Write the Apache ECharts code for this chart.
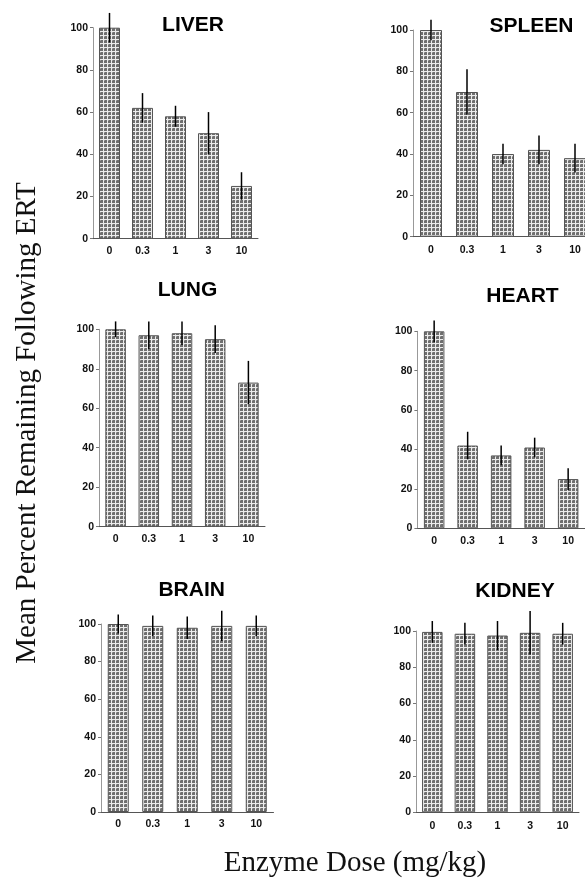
<!DOCTYPE html>
<html>
<head>
<meta charset="utf-8">
<script src="https://cdn.jsdelivr.net/npm/echarts@6/dist/echarts.min.js"></script>
<style>
html,body{margin:0;padding:0;background:#fff;overflow:hidden;}
#chart{width:600px;height:878px;}
</style>
</head>
<body>
<div id="chart"></div>
<script>
// ---- data ----
var categories = ['0', '0.3', '1', '3', '10'];
var yTicks = [0, 20, 40, 60, 80, 100];

var liverMean  = [100, 62, 58, 50, 25];
var liverErr   = [7, 7, 5, 10, 6.5];
var spleenMean = [100, 70, 40, 42, 38];
var spleenErr  = [5, 11, 5, 7, 7];
var lungMean   = [100, 97, 98, 95, 73];
var lungErr    = [4, 7, 6, 7, 11];
var heartMean  = [100, 42, 37, 41, 25];
var heartErr   = [5.5, 7, 5, 5, 5.5];
var brainMean  = [100, 99, 98, 99, 99];
var brainErr   = [5, 5.5, 6, 8, 5.5];
var kidneyMean = [99.5, 98.5, 97.5, 99, 98.5];
var kidneyErr  = [6, 6, 8, 12, 6];

var panelNames = ['LIVER', 'SPLEEN', 'LUNG', 'HEART', 'BRAIN', 'KIDNEY'];
var panelMeans = [liverMean, spleenMean, lungMean, heartMean, brainMean, kidneyMean];
var panelErrs  = [liverErr, spleenErr, lungErr, heartErr, brainErr, kidneyErr];

// ---- layout (pixels) ----
var layouts = [
  {left: 93,    top: 27.7,  width: 165,   height: 211,   barW: 21,   titleX: 193,   titleY: 25,    lblMargin: 8},
  {left: 413,   top: 30,    width: 180,   height: 206.7, barW: 22,   titleX: 531.5, titleY: 26,    lblMargin: 9},
  {left: 99,    top: 329.3, width: 166,   height: 197.4, barW: 20.5, titleX: 187.5, titleY: 290,   lblMargin: 8},
  {left: 417.4, top: 331.3, width: 167.5, height: 197,   barW: 20.5, titleX: 522.5, titleY: 296,   lblMargin: 8},
  {left: 101,   top: 624,   width: 172.5, height: 188,   barW: 21,   titleX: 191.7, titleY: 590,   lblMargin: 8},
  {left: 416,   top: 631,   width: 163,   height: 181.3, barW: 20.5, titleX: 515,   titleY: 591.5, lblMargin: 9}
];

// dotted grey fill pattern: grey squares separated by light lines
function makePattern() {
  var c = document.createElement('canvas');
  c.width = 4; c.height = 4;
  var ctx = c.getContext('2d');
  ctx.fillStyle = '#ececec';
  ctx.fillRect(0, 0, 4, 4);
  ctx.fillStyle = '#6f6f6f';
  ctx.fillRect(0, 0, 3, 3);
  ctx.fillStyle = '#9a9a9a';
  ctx.fillRect(0, 0, 1, 1);
  return c;
}
var pattern = makePattern();

var sansFont = "'Liberation Sans', Arial, sans-serif";
var serifFont = "'Liberation Serif', 'Times New Roman', serif";

var grids = [], xAxes = [], yAxes = [], series = [], graphics = [];

layouts.forEach(function (L, i) {
  grids.push({left: L.left, top: L.top, width: L.width, height: L.height, containLabel: false});
  xAxes.push({
    type: 'category', gridIndex: i, data: categories,
    axisLine: {show: true, lineStyle: {color: '#555', width: 1}},
    axisTick: {show: false},
    axisLabel: {fontSize: 10.5, fontWeight: 'bold', color: '#111', fontFamily: sansFont, margin: L.lblMargin - 1, interval: 0},
    splitLine: {show: false}
  });
  yAxes.push({
    type: 'value', gridIndex: i, min: yTicks[0], max: yTicks[yTicks.length - 1], interval: yTicks[1] - yTicks[0],
    axisLine: {show: true, lineStyle: {color: '#999', width: 1}},
    axisTick: {show: true, length: 3, lineStyle: {color: '#777'}},
    axisLabel: {fontSize: 10.5, fontWeight: 'bold', color: '#111', fontFamily: sansFont, margin: 5},
    splitLine: {show: false}
  });
  series.push({
    type: 'bar', xAxisIndex: i, yAxisIndex: i,
    data: panelMeans[i], barWidth: L.barW,
    itemStyle: {color: {image: pattern, repeat: 'repeat'}, borderColor: '#555', borderWidth: 1},
    silent: true, animation: false
  });
  var errData = panelMeans[i].map(function (m, k) {
    return [k, m - panelErrs[i][k], m + panelErrs[i][k]];
  });
  series.push({
    type: 'custom', xAxisIndex: i, yAxisIndex: i, data: errData, clip: false,
    silent: true, animation: false, z: 5,
    renderItem: function (params, api) {
      var lo = api.coord([api.value(0), api.value(1)]);
      var hi = api.coord([api.value(0), api.value(2)]);
      return {
        type: 'line',
        shape: {x1: lo[0], y1: lo[1], x2: hi[0], y2: hi[1]},
        style: {stroke: '#000', lineWidth: 1.5}
      };
    }
  });
  graphics.push({
    type: 'text', x: L.titleX, y: L.titleY,
    style: {text: panelNames[i], font: 'bold 21px ' + sansFont, fill: '#000', textAlign: 'center', textVerticalAlign: 'middle'}
  });
});

graphics.push({
  type: 'text', x: 27, y: 423, rotation: Math.PI / 2,
  style: {text: 'Mean Percent Remaining Following ERT', font: '29px ' + serifFont, fill: '#111', textAlign: 'center', textVerticalAlign: 'middle'}
});
graphics.push({
  type: 'text', x: 355, y: 863,
  style: {text: 'Enzyme Dose (mg/kg)', font: '29px ' + serifFont, fill: '#111', textAlign: 'center', textVerticalAlign: 'middle'}
});

var chart = echarts.init(document.getElementById('chart'), null, {renderer: 'canvas'});
chart.setOption({
  backgroundColor: '#fff',
  animation: false,
  grid: grids,
  xAxis: xAxes,
  yAxis: yAxes,
  series: series,
  graphic: graphics
});
</script>
</body>
</html>
